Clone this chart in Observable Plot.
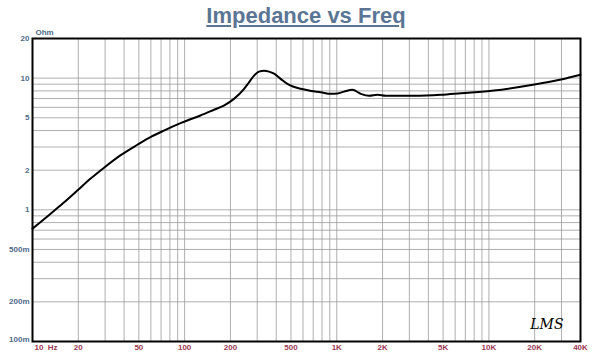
<!DOCTYPE html>
<html>
<head>
<meta charset="utf-8">
<script src="https://cdn.jsdelivr.net/npm/d3@7"></script>
<script src="https://cdn.jsdelivr.net/npm/@observablehq/plot@0.6"></script>
<style>
  html, body { margin: 0; padding: 0; background: #fff; }
  #wrap { position: relative; width: 600px; height: 363px; }
  #title { position: absolute; left: 6px; top: 3px; width: 600px; text-align: center;
    font-family: "Liberation Sans Narrow", "Arial Narrow", "Liberation Sans", sans-serif;
    font-weight: bold; font-size: 22px; color: #5b7594; text-decoration: underline; }
</style>
</head>
<body>
<div id="wrap"><div id="title">Impedance vs Freq</div><div id="chart"></div></div>
<script>
const freq = [10, 13.1, 16, 19.7, 24, 29.4, 38, 48.9, 60, 73.1, 94, 108, 127, 156, 181, 211, 246, 265, 286, 308, 333, 359, 387, 428, 474, 520, 580, 680, 785, 912, 1012, 1117, 1268, 1438, 1632, 1855, 2100, 3225, 4830, 6540, 10800, 19900, 29800, 40000];
const ohm  = [0.72, 0.93, 1.13, 1.40, 1.72, 2.08, 2.6, 3.12, 3.58, 4.0, 4.55, 4.85, 5.2, 5.75, 6.19, 6.96, 8.3, 9.3, 10.46, 11.2, 11.4, 11.2, 10.8, 9.88, 9.05, 8.6, 8.3, 8.0, 7.82, 7.6, 7.65, 7.9, 8.15, 7.6, 7.34, 7.47, 7.34, 7.34, 7.47, 7.68, 8.05, 8.94, 9.76, 10.6];

const xTicks = [10, 20, 50, 100, 200, 500, 1000, 2000, 5000, 10000, 20000, 40000];
const xTickLabels = ["10  Hz", "20", "50", "100", "200", "500", "1K", "2K", "5K", "10K", "20K", "40K"];
const yTicks = [20, 10, 5, 2, 1, 0.5, 0.2, 0.1];
const yTickLabels = ["20", "10", "5", "2", "1", "500m", "200m", "100m"];
const yUnit = "Ohm";
const brand = "LMS";

const data = freq.map((f, i) => ({f, z: ohm[i]}));
const xGrid = [];
for (const d of [10, 100, 1000, 10000]) for (let k = 1; k <= 9; k++) if (d * k <= 40000) xGrid.push(d * k);
const yGrid = [];
for (const d of [0.1, 1, 10]) for (let k = 1; k <= 9; k++) { const v = +(d * k).toPrecision(3); if (v <= 20) yGrid.push(v); }

const labelFont = "Liberation Sans, Arial, sans-serif";
const xLab = xTicks.map((v, i) => ({v, t: xTickLabels[i]}));
const yLab = yTicks.map((v, i) => ({v, t: yTickLabels[i]}));
const xColor = "#9c3a55", yColor = "#4f6a8a";

const chart = Plot.plot({
  width: 600, height: 363,
  marginLeft: 32, marginRight: 20, marginTop: 38, marginBottom: 22,
  x: {type: "log", domain: [10, 40000], axis: null},
  y: {type: "log", domain: [0.1, 20], axis: null},
  style: {fontFamily: labelFont, background: "white"},
  marks: [
    Plot.ruleX(xGrid, {x: d => d, stroke: "#9a9a9a", strokeWidth: 0.8}),
    Plot.ruleY(yGrid, {y: d => d, stroke: "#9a9a9a", strokeWidth: 0.8}),
    Plot.line(data, {x: "f", y: "z", stroke: "black", strokeWidth: 2, curve: "monotone-x"}),
    Plot.frame({stroke: "black", strokeWidth: 2}),
    Plot.text(xLab.filter(d => d.v !== 10), {x: "v", text: "t", frameAnchor: "bottom", dy: 8,
      textAnchor: "middle", fill: xColor, fontSize: 8, fontWeight: "bold"}),
    Plot.text(xLab.filter(d => d.v === 10), {x: "v", text: "t", frameAnchor: "bottom", dy: 8, dx: 2,
      textAnchor: "start", fill: xColor, fontSize: 8, fontWeight: "bold"}),
    Plot.text(yLab.filter(d => d.v !== 0.1), {y: "v", text: "t", frameAnchor: "left", dx: -3, textAnchor: "end",
      fill: yColor, fontSize: 8, fontWeight: "bold"}),
    Plot.text(yLab.filter(d => d.v === 0.1), {y: "v", text: "t", frameAnchor: "left", dx: -3, dy: -2, textAnchor: "end",
      fill: yColor, fontSize: 8, fontWeight: "bold"}),
    Plot.text([yUnit], {text: d => d, frameAnchor: "top-left", dx: 3, dy: -9, textAnchor: "start",
      fill: yColor, fontSize: 8, fontWeight: "bold"}),
    Plot.text([brand], {text: d => d, frameAnchor: "bottom-right", dx: -17, dy: -13, textAnchor: "end",
      fill: "black", fontSize: 14, fontStyle: "italic", fontFamily: "DejaVu Serif, serif"})
  ]
});
document.getElementById("chart").appendChild(chart);
</script>
</body>
</html>
